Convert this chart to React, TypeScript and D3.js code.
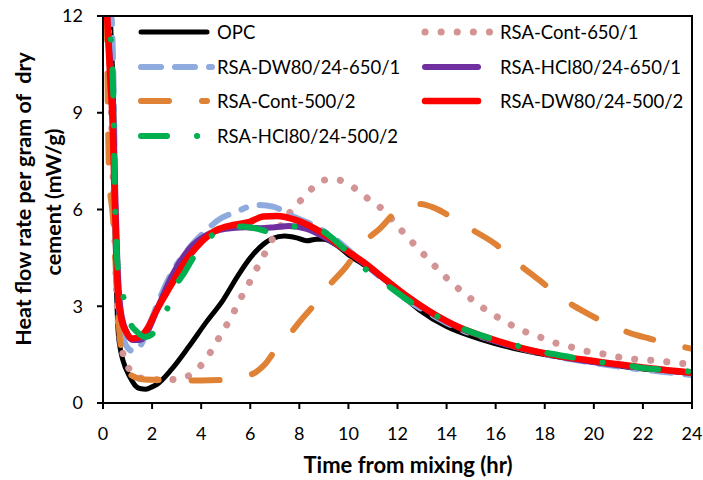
import React from 'react';
import * as d3 from 'd3';

type P = [number, number];

const xTicks = [0, 2, 4, 6, 8, 10, 12, 14, 16, 18, 20, 22, 24];
const yTicks = [0, 3, 6, 9, 12];

const seriesNames = [
  'OPC',
  'RSA-Cont-650/1',
  'RSA-DW80/24-650/1',
  'RSA-HCl80/24-650/1',
  'RSA-Cont-500/2',
  'RSA-DW80/24-500/2',
  'RSA-HCl80/24-500/2',
];

const opc: P[] = [[0.1,14],[0.35,11],[0.45,8.5],[0.5,5],[0.55,3.5],[0.61,2.3],[0.7,1.7],[0.81,1.33],[1.1,0.8],[1.3,0.55],[1.5,0.45],[1.75,0.43],[2.0,0.5],[2.2,0.58],[2.8,1.05],[3.5,1.75],[4.2,2.5],[4.9,3.2],[5.5,3.95],[6.0,4.5],[6.5,4.9],[6.9,5.1],[7.4,5.18],[7.9,5.12],[8.3,5.03],[8.7,5.08],[9.0,5.08],[9.5,4.9],[10,4.6],[10.6,4.3],[11.3,3.95],[12,3.45],[12.9,2.88],[14,2.37],[15,2.07],[15.9,1.86],[17,1.65],[18,1.5],[19.4,1.33],[21,1.15],[22.5,1.02],[24,0.92]];

const cont650: P[] = [[0.05,14],[0.3,10],[0.45,6],[0.55,3.5],[0.7,2.0],[0.96,1.23],[1.37,0.82],[2,0.72],[2.6,0.72],[3.26,0.78],[3.81,1.02],[4.22,1.39],[4.56,1.8],[4.9,2.26],[5.23,2.65],[5.5,3.1],[5.85,3.56],[6.12,3.97],[6.45,4.43],[6.75,4.87],[7.06,5.28],[7.81,6.09],[8.29,6.45],[8.73,6.81],[9.33,6.95],[9.95,6.81],[10.5,6.52],[11.0,6.21],[11.27,6.08],[12.15,5.36],[12.58,5.0],[13.03,4.64],[13.48,4.28],[13.94,3.92],[14.43,3.58],[14.93,3.27],[15.47,2.96],[15.99,2.7],[16.56,2.45],[17.14,2.23],[17.75,2.06],[18.35,1.88],[19.0,1.75],[19.61,1.62],[20.25,1.54],[20.9,1.44],[21.58,1.36],[22.25,1.33],[22.93,1.28],[23.58,1.23],[24,1.2]];

const dw650: P[] = [[0.1,14],[0.35,12],[0.45,9],[0.5,6],[0.57,4.3],[0.65,3],[0.8,2.1],[1.0,1.72],[1.25,1.6],[1.5,1.75],[1.91,2.47],[2.4,3.4],[2.86,4.12],[3.3,4.6],[3.67,4.95],[4.2,5.35],[4.69,5.67],[5.44,5.93],[6.25,6.14],[6.93,6.09],[7.61,5.83],[8.42,5.57],[9.23,5.21],[10.32,4.54],[11.27,3.92],[12.2,3.3],[13.3,2.78],[14.5,2.3],[15.87,1.95],[17.5,1.6],[19.68,1.28],[21.5,1.08],[23,0.95],[24,0.87]];

const hcl650: P[] = [[0.1,13],[0.25,11],[0.4,9.5],[0.5,6.5],[0.58,4.5],[0.7,3],[0.95,2.2],[1.2,1.95],[1.5,1.95],[1.8,2.2],[2.2,2.9],[2.86,4.02],[3.54,4.8],[4.2,5.2],[5,5.4],[5.8,5.45],[6.39,5.42],[7.0,5.45],[7.58,5.49],[8.3,5.4],[9,5.15],[9.8,4.78],[10.6,4.35],[11.5,3.82],[12.5,3.25],[13.5,2.75],[14.5,2.35],[15.5,2.05],[16.27,1.85],[17.5,1.62],[19.2,1.36],[21,1.17],[22.5,1.05],[24,0.93]];

const cont500: P[] = [[0.02,14],[0.15,12],[0.2,9],[0.25,7],[0.4,5.8],[0.5,4.5],[0.58,3.2],[0.69,2.0],[0.8,1.4],[1.0,1.0],[1.3,0.8],[1.7,0.73],[2.2,0.72],[3,0.7],[4,0.7],[5,0.72],[5.6,0.8],[6.25,0.97],[6.6,1.2],[6.93,1.54],[7.3,1.9],[7.74,2.26],[8.1,2.6],[8.49,2.94],[9.16,3.6],[9.91,4.23],[10.6,4.96],[11.27,5.4],[11.95,5.93],[12.4,6.1],[12.9,6.17],[13.5,6.05],[14.05,5.83],[15.07,5.36],[15.95,4.95],[16.9,4.33],[17.78,3.81],[18.7,3.25],[19.6,2.83],[20.67,2.42],[21.71,2.11],[22.25,2.0],[23.27,1.8],[24,1.68]];

const dw500: P[] = [[0.1,13],[0.3,10],[0.4,8.5],[0.45,7],[0.5,5.8],[0.55,4.5],[0.62,3.3],[0.75,2.6],[0.95,2.2],[1.2,2.0],[1.5,2.05],[1.8,2.3],[2.2,2.9],[2.73,3.6],[3.34,4.38],[3.95,4.95],[4.62,5.36],[5.3,5.52],[5.98,5.62],[6.52,5.78],[7.07,5.8],[7.88,5.67],[8.96,5.26],[9.78,4.8],[10.59,4.38],[11.54,3.81],[12.5,3.25],[13.5,2.75],[14.5,2.35],[15.5,2.07],[17,1.72],[18.5,1.47],[20,1.3],[22,1.1],[24,0.94]];

const hcl500: P[] = [[0.1,13],[0.3,11.5],[0.42,9.5],[0.47,7],[0.52,5.5],[0.6,4.2],[0.83,3.3],[1.1,2.5],[1.4,2.2],[1.71,2.05],[2.1,2.2],[2.48,2.6],[2.79,3.35],[3.34,4.07],[3.88,4.74],[4.3,5.1],[4.76,5.36],[5.7,5.47],[6.3,5.4],[6.8,5.31],[7.3,5.42],[7.81,5.47],[8.83,5.36],[9.7,4.87],[10.5,4.28],[11.68,3.6],[12.83,2.99],[13.78,2.63],[14.8,2.26],[15.81,2.0],[16.9,1.77],[17.85,1.59],[18.93,1.44],[20.06,1.28],[21.03,1.21],[22.05,1.08],[23.2,1.02],[24,0.97]];

const seriesData: P[][] = [opc, cont650, dw650, hcl650, cont500, dw500, hcl500];

const styles = [
  { color: '#000000', width: 5, dash: undefined as string | undefined },
  { color: '#D29494', width: 7, dash: '0.1 16' },
  { color: '#8FAADC', width: 6, dash: '20 14 20 14 5 14' },
  { color: '#7030A0', width: 6, dash: undefined },
  { color: '#DF8236', width: 6, dash: '28 33' },
  { color: '#FF0000', width: 6.5, dash: undefined },
  { color: '#00B050', width: 6, dash: '26 30 0.1 30' },
];

const legendPos = [
  { x1: 141, x2: 207, tx: 217, y: 32 },
  { x1: 425, x2: 490, tx: 500, y: 32 },
  { x1: 141, x2: 212, tx: 217, y: 67 },
  { x1: 425, x2: 478, tx: 500, y: 67 },
  { x1: 141, x2: 207, tx: 217, y: 101 },
  { x1: 425, x2: 478, tx: 500, y: 101 },
  { x1: 141, x2: 203, tx: 217, y: 136 },
];

const FONT = 'Lato, "Open Sans", sans-serif';

export default function App() {
  const left = 103, right = 692, top = 16, bottom = 403;
  const x = d3.scaleLinear().domain([0, 24]).range([left, right]);
  const y = d3.scaleLinear().domain([0, 12]).range([bottom, top]);
  const line = d3
    .line<P>()
    .x((d) => x(d[0]))
    .y((d) => y(d[1]))
    .curve(d3.curveMonotoneX);

  return (
    <svg
      width={703}
      height={480}
      style={{ position: 'absolute', left: 0, top: 0, background: '#fff' }}
      fontFamily={FONT}
    >
      <defs>
        <clipPath id="plot">
          <rect x={left} y={top} width={right - left} height={bottom - top} />
        </clipPath>
      </defs>
      <rect x={0} y={0} width={703} height={480} fill="#fff" />
      <g clipPath="url(#plot)">
        {seriesData.map((data, i) => (
          <path
            key={i}
            d={line(data) || ''}
            fill="none"
            stroke={styles[i].color}
            strokeWidth={styles[i].width}
            strokeDasharray={styles[i].dash}
            strokeLinecap="round"
            strokeLinejoin="round"
          />
        ))}
      </g>
      <rect
        x={left}
        y={top}
        width={right - left}
        height={bottom - top}
        fill="none"
        stroke="#000"
        strokeWidth={2}
      />
      {xTicks.map((t) => (
        <g key={'x' + t}>
          <line x1={x(t)} x2={x(t)} y1={bottom} y2={bottom + 6} stroke="#000" strokeWidth={2} />
          <text x={x(t)} y={440} textAnchor="middle" fontSize={18} fill="#000">
            {t}
          </text>
        </g>
      ))}
      {yTicks.map((t) => (
        <g key={'y' + t}>
          <line x1={left - 6} x2={left} y1={y(t)} y2={y(t)} stroke="#000" strokeWidth={2} />
          <text x={83} y={y(t)} dy="0.36em" textAnchor="end" fontSize={18} fill="#000">
            {t}
          </text>
        </g>
      ))}
      <text x={408} y={473} textAnchor="middle" fontSize={22} fontWeight="bold" fill="#000">
        Time from mixing (hr)
      </text>
      <text
        transform="translate(31,199) rotate(-90)"
        textAnchor="middle"
        fontSize={21.5}
        fontWeight="bold"
        fill="#000"
        style={{ whiteSpace: 'pre' }}
      >
        {'Heat flow rate per gram of  dry'}
      </text>
      <text
        transform="translate(61,202) rotate(-90)"
        textAnchor="middle"
        fontSize={21.5}
        fontWeight="bold"
        fill="#000"
      >
        cement (mW/g)
      </text>
      {seriesNames.map((name, i) => {
        const p = legendPos[i];
        return (
          <g key={'l' + i}>
            <line
              x1={p.x1}
              x2={p.x2}
              y1={p.y}
              y2={p.y}
              stroke={styles[i].color}
              strokeWidth={styles[i].width}
              strokeDasharray={styles[i].dash}
              strokeLinecap="round"
            />
            <text x={p.tx} y={p.y} dy="0.36em" fontSize={18.5} fill="#000">
              {name}
            </text>
          </g>
        );
      })}
    </svg>
  );
}
